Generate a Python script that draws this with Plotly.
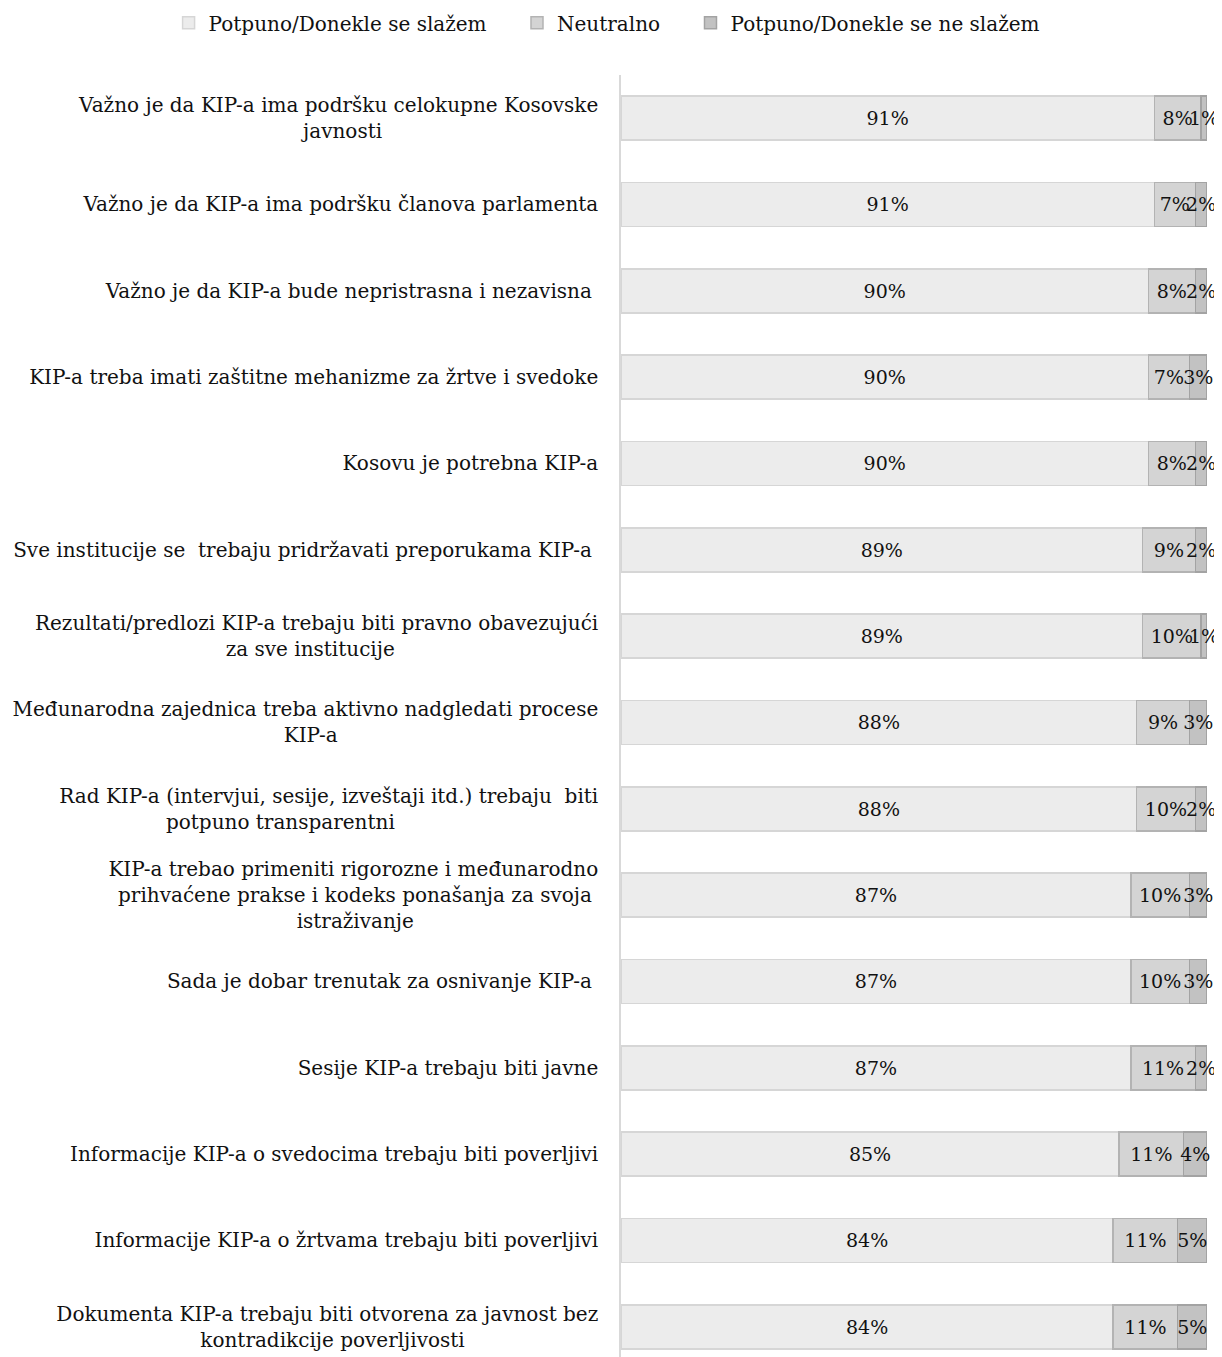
import plotly.graph_objects as go

categories = [
    "Važno je da KIP-a ima podršku celokupne Kosovske<br>javnosti",
    "Važno je da KIP-a ima podršku članova parlamenta",
    "Važno je da KIP-a bude nepristrasna i nezavisna ",
    "KIP-a treba imati zaštitne mehanizme za žrtve i svedoke",
    "Kosovu je potrebna KIP-a",
    "Sve institucije se  trebaju pridržavati preporukama KIP-a ",
    "Rezultati/predlozi KIP-a trebaju biti pravno obavezujući<br>za sve institucije",
    "Međunarodna zajednica treba aktivno nadgledati procese<br>KIP-a",
    "Rad KIP-a (intervjui, sesije, izveštaji itd.) trebaju  biti<br>potpuno transparentni",
    "KIP-a trebao primeniti rigorozne i međunarodno<br>prihvaćene prakse i kodeks ponašanja za svoja<br>istraživanje",
    "Sada je dobar trenutak za osnivanje KIP-a ",
    "Sesije KIP-a trebaju biti javne",
    "Informacije KIP-a o svedocima trebaju biti poverljivi",
    "Informacije KIP-a o žrtvama trebaju biti poverljivi",
    "Dokumenta KIP-a trebaju biti otvorena za javnost bez<br>kontradikcije poverljivosti",
]
agree = [91, 91, 90, 90, 90, 89, 89, 88, 88, 87, 87, 87, 85, 84, 84]
neutral = [8, 7, 8, 7, 8, 9, 10, 9, 10, 10, 10, 11, 11, 11, 11]
disagree = [1, 2, 2, 3, 2, 2, 1, 3, 2, 3, 3, 2, 4, 5, 5]
series_names = ["Potpuno/Donekle se slažem", "Neutralno", "Potpuno/Donekle se ne slažem"]

FONT = "DejaVu Serif"
fills = ["#ececec", "#d4d4d4", "#c2c2c2"]
lines = ["#d6d6d6", "#b3b3b3", "#a3a3a3"]
NBSP = "\u00a0"


def centered(label):
    # pad shorter lines with no-break spaces so multi-line labels look centred
    parts = label.split("<br>")
    longest = max(len(p) for p in parts)
    out = []
    for p in parts:
        pad = int(round((longest - len(p)) * 10.7 / 2 / 6.36))
        out.append(p + NBSP * pad)
    return "<br>".join(out)


tick_labels = [centered(c) for c in categories]

fig = go.Figure()
for i, (name, vals, fc, lc) in enumerate(zip(series_names, [agree, neutral, disagree], fills, lines)):
    legend_name = name + (NBSP * 4 if i < len(series_names) - 1 else "")
    fig.add_trace(go.Bar(
        y=categories, x=vals, name=legend_name, orientation="h",
        marker=dict(color=fc, line=dict(color=lc, width=1.5)),
        text=[f"{v}%" for v in vals], textposition="inside", textangle=0,
        insidetextanchor="middle", constraintext="none", cliponaxis=False,
        textfont=dict(family=FONT, size=19, color="#111111"),
        width=0.51,
    ))

fig.update_layout(
    barmode="stack",
    width=1214, height=1349,
    margin=dict(l=613, r=15, t=67, b=0, autoexpand=False),
    plot_bgcolor="white", paper_bgcolor="white",
    font=dict(family=FONT, size=20, color="#111111"),
    uniformtext=dict(minsize=19, mode="show"),
    legend=dict(orientation="h", x=-0.772, xanchor="left",
                y=1.056, yanchor="top",
                font=dict(family=FONT, size=20), traceorder="normal",
                itemwidth=30),
    showlegend=True,
)
fig.update_xaxes(range=[0, 100], visible=False, showgrid=False)
fig.update_yaxes(
    categoryorder="array", categoryarray=categories,
    tickmode="array", tickvals=categories, ticktext=tick_labels,
    range=[14.35, -0.5], showgrid=False, automargin=False,
    showline=True, linecolor="#d9d9d9", linewidth=1.5,
    ticks="", ticklabelstandoff=17,
    tickfont=dict(family=FONT, size=20, color="#111111"),
)
fig.write_html("out.html")
